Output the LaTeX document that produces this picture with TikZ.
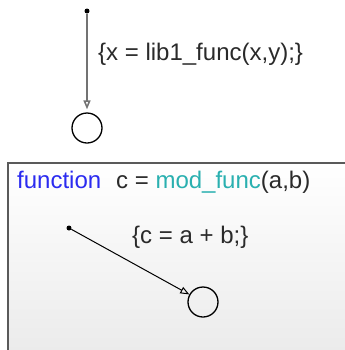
\documentclass[tikz,border=0pt]{standalone}
\usepackage{fontspec}
\setmainfont{Liberation Sans}
\usetikzlibrary{arrows.meta}
\definecolor{kwblue}{HTML}{2B2BF0}
\definecolor{fnteal}{HTML}{2AB0B0}
\definecolor{txt}{HTML}{2A2A2A}
\definecolor{boxborder}{HTML}{5A5A5A}
\begin{document}
\begin{tikzpicture}[x=1bp,y=-1bp,
  lbl/.style={inner sep=0pt, anchor=base west, font=\fontsize{24bp}{28bp}\selectfont, text=txt},
  state/.style={circle, draw, line width=1.3bp, minimum size=30bp, inner sep=0pt},
  dot/.style={circle, fill, inner sep=0pt, minimum size=5bp},
  tip/.style={-{Triangle[open,length=9bp,width=7bp]}}]
\useasboundingbox (0,0) rectangle (345,350);
\shade[top color=white, bottom color=black!8] (8,163) rectangle (350,355);
\draw[boxborder, line width=2.2bp] (8,355) -- (8,163) -- (350,163);
% top chart
\node[dot] (s1) at (87,11) {};
\node[state] (c1) at (87,128) {};
\draw[tip, draw=black!55, line width=1.6bp, shorten >=3bp] (s1) -- (c1);
\node[lbl] (t1) at (98,60) {\{x = lib1\_func(x,y);\}};
% function box
\node[lbl, text=kwblue] (kw) at (17,188) {function};
\node[lbl] (sig) at (116,188) {c = \textcolor{fnteal}{mod\_func}(a,b)};
\node[dot] (s2) at (69,228) {};
\node[state] (c2) at (203,302) {};
\draw[tip, line width=1bp] (s2) -- (c2);
\node[lbl] (t2) at (132,243) {\{c = a + b;\}};
\end{tikzpicture}
\end{document}
